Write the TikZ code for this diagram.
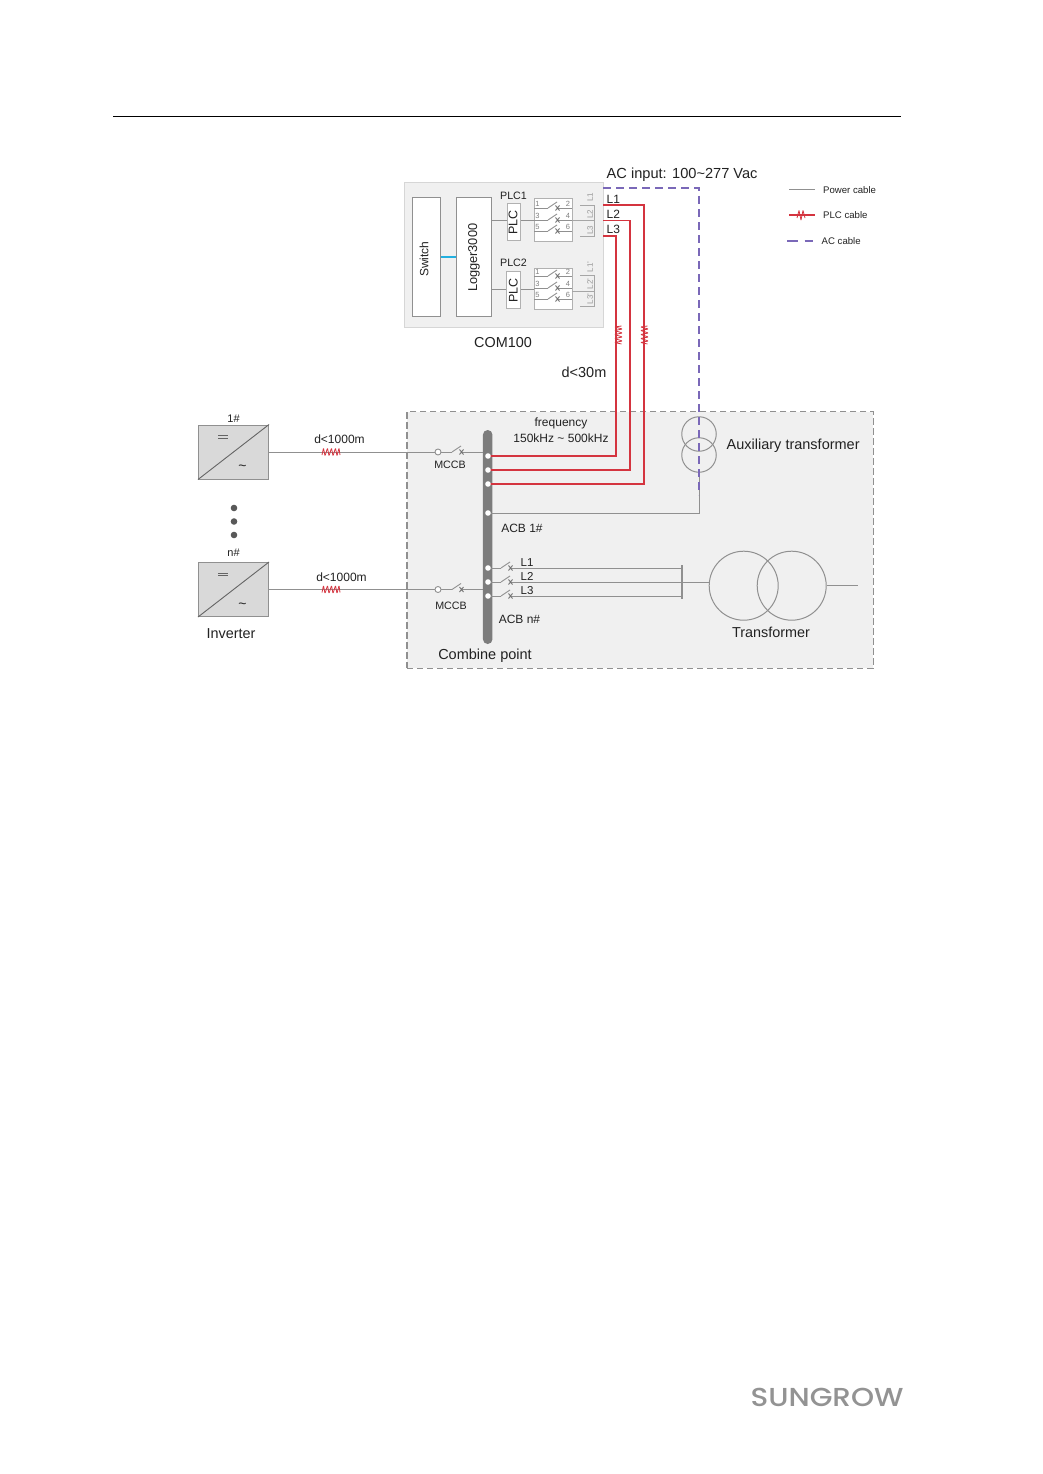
\documentclass[tikz,border=0pt]{standalone}
\usepackage{fontspec}
\setmainfont{Liberation Sans}
\newfontfamily\logofont{Poppins}[UprightFont=* Medium]
\definecolor{CablePower}{HTML}{909090}
\definecolor{CablePlc}{HTML}{D4343F}
\definecolor{CableAc}{HTML}{7A68B8}
\definecolor{CableLink}{HTML}{22B0E0}
\definecolor{PanelFill}{HTML}{F0F0F0}
\definecolor{PanelEdge}{HTML}{D6D6D6}
\definecolor{BusFill}{HTML}{7C7C7C}
\definecolor{LabelText}{HTML}{222222}
\tikzset{
  labeltext/.style={font=\fontsize{#1}{#1}\selectfont,text=LabelText,inner sep=0pt,yshift=-0.8pt},
  boxunit/.style={draw=CablePower,line width=1pt,fill=white,inner sep=0pt},
  powerline/.style={draw=CablePower,line width=1pt},
  plcline/.style={draw=CablePlc,line width=1.2pt},
  acline/.style={draw=CableAc,line width=1.1pt,dash pattern=on 8pt off 5pt},
  dropmark/.pic={
    \draw[CablePlc,line width=0.8pt,line join=round,rounded corners=0.8pt] (-9,3) -- (-7.5,-4) -- (-6,4) -- (-3.5,-4) -- (-2,4) -- (0.5,-4) -- (2,4) -- (4.5,-4) -- (6,4) -- (8,-4) -- (9,3);
  },
  breakmark/.pic={
    \draw[CablePower,line width=0.9pt] (-9,0) -- (0,-6);
    \draw[CablePower!80!black,line width=0.9pt] (-1.5,-2.5) -- (2.5,2.5) (-1.5,2.5) -- (2.5,-2.5);
  }
}
\begin{document}
\begin{tikzpicture}[x=1pt,y=-1pt]
  \useasboundingbox[fill=white] (0,0) rectangle (1043,1474);
  \draw[black,line width=0.8pt] (113,116) -- (901,116);

  % panels
  \node[draw=PanelEdge,fill=PanelFill,line width=1pt,inner sep=0pt,minimum width=199pt,minimum height=144pt] (com) at (503.5,255) {};
  \node[draw=CablePower,dash pattern=on 6.5pt off 3.5pt,fill=PanelFill,line width=1.1pt,inner sep=0pt,minimum width=466.5pt,minimum height=256.5pt] (combine) at (640.2,540) {};

  % COM100 box
  \node[boxunit,minimum width=28pt,minimum height=119pt] (switch) at (426,257) {};
  \node[boxunit,minimum width=34.5pt,minimum height=119pt] (logger) at (474.2,257) {};
  \node[boxunit,draw=CablePower!70,minimum width=13.5pt,minimum height=37pt] (plcone) at (514.2,221.5) {};
  \node[boxunit,draw=CablePower!70,minimum width=13.5pt,minimum height=37pt] (plctwo) at (513.7,289.5) {};
  \node[boxunit,draw=CablePower!70,minimum width=38pt,minimum height=42pt] (blockone) at (553,220) {};
  \node[boxunit,draw=CablePower!70,minimum width=38pt,minimum height=41pt] (blocktwo) at (553,288.5) {};
  \node[labeltext=12,rotate=90,xshift=-1.5pt,yshift=2pt] at (switch) {Switch};
  \node[labeltext=12.8,rotate=90,yshift=0.2pt] at (logger) {Logger3000};
  \node[labeltext=12.5,rotate=90,yshift=1.2pt] at (plcone) {PLC};
  \node[labeltext=12.5,rotate=90,yshift=0.5pt] at (plctwo) {PLC};
  \node[labeltext=10.7] at (513.5,195.5) {PLC1};
  \node[labeltext=10.7] at (513.5,262) {PLC2};
  \node[labeltext=14.4] at (503,342) {COM100};
  \draw[CableLink,line width=1.6pt] (switch.east) -- (logger.west);
  \draw[powerline] (logger.east |- 0,220) -- (plcone.west |- 0,220);
  \draw[powerline] (plcone.east |- 0,220) -- (blockone.west |- 0,220);
  \draw[powerline] (logger.east |- 0,289) -- (plctwo.west |- 0,289);
  \draw[powerline] (plctwo.east |- 0,289) -- (blocktwo.west |- 0,289);

  % contacts in the two blocks
  \foreach \row/\left/\right in {208/1/2,220/3/4,231/5/6}{
    \foreach \block in {0,68}{
      \draw[CablePower,line width=0.9pt] (534,\row+\block) -- (548,\row+\block) (557,\row+\block) -- (572,\row+\block);
      \pic at (557,\row+\block) {breakmark};
      \node[font=\fontsize{7.5}{7.5}\selectfont,text=gray,inner sep=0pt] at (537.5,\row+\block-4) {\left};
      \node[font=\fontsize{7.5}{7.5}\selectfont,text=gray,inner sep=0pt] at (568,\row+\block-4) {\right};
    }
  }

  % terminals
  \foreach \y/\name in {197/L1,214/L2,230/L3,267/L1',284/L2',299/L3'}{
    \node[font=\fontsize{8}{8}\selectfont,text=gray!80,rotate=90,inner sep=0pt] at (590,\y) {\name};
  }
  \draw[CablePower!80,line width=1pt] (580,205) -- (594.5,205) -- (594.5,236) -- (580,236) (572,220) -- (594.5,220);
  \draw[CablePower!80,line width=1pt] (580,275) -- (594.5,275) -- (594.5,306) -- (580,306) (572,291) -- (594.5,291);

  % bus bar
  \node[fill=BusFill,rounded corners=4.7pt,inner sep=0pt,minimum width=9.5pt,minimum height=214pt] (bus) at (487.7,537) {};

  % AC feed and auxiliary transformer
  \coordinate (acstart) at (603,188);
  \coordinate (accorner) at (699,188);
  \coordinate (acend) at (699,495);
  \coordinate (auxtap) at (488,513);
  \coordinate (auxcorner) at (699,513);
  \node[draw=CablePower,line width=1pt,circle,inner sep=0pt,minimum size=34.5pt] (auxtop) at (699,434) {};
  \node[draw=CablePower,line width=1pt,circle,inner sep=0pt,minimum size=34.5pt] (auxlow) at (699,455) {};
  \draw[powerline] (auxtap) -- (auxcorner) -- (auxlow.south);
  \draw[acline] (acstart) -- (accorner) -- (acend);

  % PLC drops
  \coordinate (lonestart) at (603,205);
  \coordinate (ltwostart) at (603,220.5);
  \coordinate (lthreestart) at (603,236);
  \coordinate (lonetap) at (488,484);
  \coordinate (ltwotap) at (488,470);
  \coordinate (lthreetap) at (488,456);
  \draw[plcline] (lonestart) -| (644,484) -- (lonetap);
  \draw[plcline] (ltwostart) -| (630,470) -- (ltwotap);
  \draw[plcline] (lthreestart) -| (616,456) -- (lthreetap);
  \pic[rotate=90] at (618.5,335) {dropmark};
  \pic[rotate=90] at (644.5,335) {dropmark};
  \node[labeltext=12,anchor=west] at (606.5,199) {L1};
  \node[labeltext=12,anchor=west] at (606.5,214) {L2};
  \node[labeltext=12,anchor=west] at (606.5,229) {L3};

  % inverters
  \foreach \name/\ytop/\tag/\tagy/\mccby/\lblx in {one/425/1\#/417.5/452/339.5,two/562.5/n\#/552/589.5/341.5}{
    \node[draw=CablePower,fill=gray!30,line width=1pt,inner sep=0pt,minimum width=70pt,minimum height=54pt] (inv\name) at (233.5,\ytop+27) {};
    \draw[CablePower!70!black,line width=0.9pt] (inv\name.south west) -- (inv\name.north east);
    \draw[LabelText!70,line width=1pt] (218,\ytop+10.5) -- (228,\ytop+10.5) (218,\ytop+13) -- (228,\ytop+13);
    \node[labeltext=14] at (242.5,\ytop+42) {\textasciitilde};
    \node[labeltext=11] at (233.5,\tagy) {\tag};
    \node[labeltext=12] at (\lblx,\mccby-13.5) {d<1000m};
    \node[draw=CablePower,fill=white,line width=0.9pt,circle,inner sep=0pt,minimum size=6pt] (mccb\name) at (438,\mccby) {};
    \draw[powerline] (inv\name.east |- mccb\name) -- (mccb\name.west);
    \draw[powerline] (mccb\name.east) -- (452,\mccby);
    \draw[powerline] (461,\mccby) -- (bus.west |- mccb\name);
    \pic at (461,\mccby) {breakmark};
    \pic at (331,\mccby) {dropmark};
  }
  \foreach \y in {508,521.5,535}{
    \fill[black!65] (234,\y) circle[radius=3.3];
  }
  \node[labeltext=14.4] at (231,632.5) {Inverter};
  \node[labeltext=10.7] at (450,464.5) {MCCB};
  \node[labeltext=10.7] at (451,605) {MCCB};

  % outgoing breakers
  \foreach \y/\name in {568/L1,582/L2,596/L3}{
    \draw[powerline] (488,\y) -- (501,\y) (510,\y) -- (682,\y);
    \pic at (510,\y) {breakmark};
    \node[labeltext=11.5,anchor=west] at (520.5,\y-6) {\name};
  }
  \foreach \y in {456,470,484,513,568,582,596}{
    \fill[white] (488,\y) circle[radius=2.8];
  }
  \draw[CablePower,line width=1.5pt] (682,565) -- (682,599);

  % main transformer
  \node[draw=CablePower,line width=1pt,circle,inner sep=0pt,minimum size=69pt] (trafol) at (743.7,585.7) {};
  \node[draw=CablePower,line width=1pt,circle,inner sep=0pt,minimum size=69pt] (trafor) at (791.7,585.7) {};
  \coordinate (gridend) at (858,585.7);
  \draw[powerline] (682,582) -- (trafol.west |- 0,582);
  \draw[powerline] (trafor.east) -- (gridend);

  % texts
  \node[labeltext=14.6,anchor=west] at (606.5,173.5) {AC input: 100\textasciitilde277 Vac};
  \node[labeltext=14.5] at (584,371.5) {d<30m};
  \node[labeltext=12] at (561,422.5) {frequency};
  \node[labeltext=12] at (561,437) {150kHz \textasciitilde{} 500kHz};
  \node[labeltext=14.5,anchor=west] at (726.5,444.5) {Auxiliary transformer};
  \node[labeltext=12] at (522,527.5) {ACB 1\#};
  \node[labeltext=12] at (519.5,618.5) {ACB n\#};
  \node[labeltext=14.5] at (485,654.5) {Combine point};
  \node[labeltext=14.4] at (771,632) {Transformer};

  % legend
  \coordinate (legpowera) at (789,190);
  \coordinate (legpowerb) at (815,190);
  \coordinate (legplca) at (789,215);
  \coordinate (legplcb) at (815,215);
  \coordinate (legaca) at (787,241);
  \coordinate (legacb) at (813,241);
  \draw[powerline] (legpowera) -- (legpowerb);
  \draw[plcline] (legplca) -- (legplcb);
  \draw[CablePlc,line width=0.8pt,line join=round] (797,218) -- (799,210.5) -- (801,220) -- (803,210.5) -- (805,218);
  \draw[CableAc,line width=1.3pt,dash pattern=on 11pt off 6.5pt] (legaca) -- (legacb);
  \node[labeltext=9.6,anchor=west] at (823,189) {Power cable};
  \node[labeltext=9.6,anchor=west] at (823,214) {PLC cable};
  \node[labeltext=9.6,anchor=west] at (821.5,240) {AC cable};

  % footer
  \node[font=\fontsize{26}{26}\selectfont\logofont,text=gray!85,inner sep=0pt,xscale=1.13] at (827,1397) {SUNGROW};
\end{tikzpicture}
\end{document}
